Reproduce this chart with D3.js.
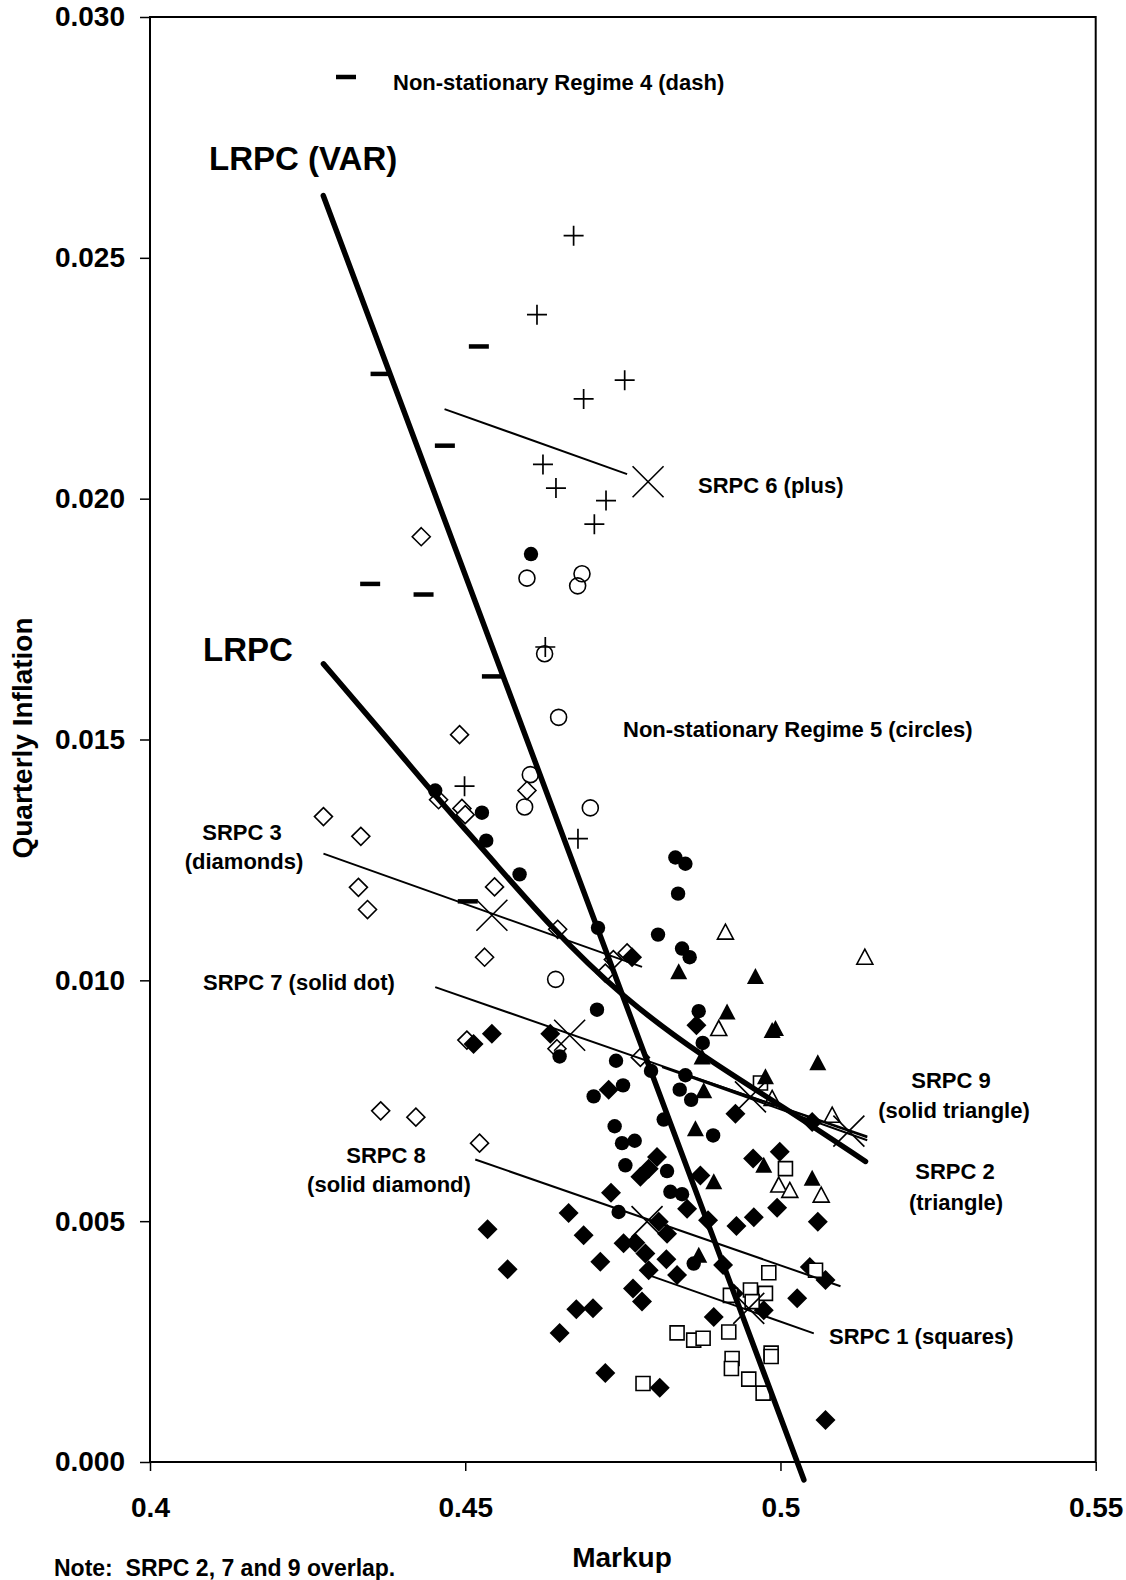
<!DOCTYPE html>
<html><head><meta charset="utf-8">
<script src="https://cdn.jsdelivr.net/npm/d3@7/dist/d3.min.js"></script>
<style>
html,body{margin:0;padding:0;background:#fff;}
svg text{font-family:"Liberation Sans",Arial,sans-serif;font-weight:bold;fill:#000;}
</style></head>
<body>
<svg id="chart" width="1126" height="1580"></svg>
<script>
// ---------- data ----------
const xTicks = [0.4, 0.45, 0.5, 0.55];
const xTickLabels = ["0.4", "0.45", "0.5", "0.55"];
const yTicks = [0, 0.005, 0.010, 0.015, 0.020, 0.025, 0.030];
const yTickLabels = ["0.000", "0.005", "0.010", "0.015", "0.020", "0.025", "0.030"];

// Non-stationary Regime 4 (dash)
const regime4Dash = [[0.45216,0.02316],[0.43657,0.02259],[0.44677,0.02110],[0.43492,0.01823],[0.44339,0.01801],[0.45423,0.01631],[0.4504,0.01164]];
// SRPC 6 (plus)
const srpc6Plus = [[0.46719,0.02546],[0.46138,0.02382],[0.47529,0.02246],[0.46878,0.02207],[0.46233,0.02071],[0.46439,0.02022],[0.47233,0.01996],[0.47048,0.01947],[0.46270,0.01692],[0.44989,0.01403],[0.46788,0.01294]];
// Non-stationary Regime 5 (circles)
const regime5Circles = [[0.45979,0.01835],[0.46852,0.01844],[0.46783,0.01819],[0.46259,0.01678],[0.46481,0.01546],[0.46032,0.01427],[0.45942,0.01360],[0.46984,0.01358],[0.46434,0.01002]];
// SRPC 3 (open diamonds)
const srpc3Diamonds = [[0.44302,0.01921],[0.44910,0.01510],[0.45979,0.01394],[0.44577,0.01375],[0.44947,0.01357],[0.45000,0.01344],[0.42751,0.01340],[0.43344,0.01299],[0.43306,0.01193],[0.43450,0.01147],[0.45465,0.01194],[0.45307,0.01048],[0.46466,0.01106],[0.47349,0.01043],[0.47567,0.01057],[0.47222,0.01015],[0.45026,0.00876],[0.46455,0.00858],[0.47778,0.00840],[0.43659,0.00729],[0.44217,0.00716],[0.45227,0.00662]];
// SRPC 7 (solid dot)
const srpc7Dots = [[0.46043,0.01885],[0.44524,0.01394],[0.45265,0.01348],[0.45333,0.01290],[0.45862,0.01220],[0.48333,0.01255],[0.48492,0.01242],[0.48376,0.01180],[0.47106,0.01109],[0.48058,0.01095],[0.48439,0.01066],[0.48560,0.01048],[0.47090,0.00939],[0.48703,0.00936],[0.48767,0.00870],[0.46497,0.00842],[0.47392,0.00833],[0.47947,0.00812],[0.48492,0.00803],[0.47503,0.00782],[0.47037,0.00759],[0.48402,0.00773],[0.48583,0.00752],[0.48148,0.00711],[0.47370,0.00697],[0.48932,0.00678],[0.47487,0.00662],[0.47688,0.00667],[0.47540,0.00616],[0.48201,0.00604],[0.48254,0.00561],[0.48439,0.00556],[0.47433,0.00519],[0.48624,0.00412]];
// SRPC 8 (solid diamond)
const srpc8SolidDiamonds = [[0.48042,0.00633],[0.49989,0.00644],[0.49566,0.00630],[0.47778,0.00592],[0.47910,0.00609],[0.48730,0.00595],[0.47312,0.00559],[0.46640,0.00517],[0.49947,0.00528],[0.49577,0.00508],[0.48519,0.00526],[0.48852,0.00502],[0.49302,0.00490],[0.50592,0.00499],[0.48069,0.00499],[0.48201,0.00474],[0.45354,0.00483],[0.46878,0.00471],[0.47511,0.00454],[0.47698,0.00455],[0.47857,0.00433],[0.48190,0.00421],[0.47143,0.00416],[0.48360,0.00388],[0.47910,0.00398],[0.49090,0.00409],[0.50465,0.00405],[0.50714,0.00378],[0.45672,0.00400],[0.47661,0.00360],[0.47804,0.00333],[0.46762,0.00317],[0.47027,0.00319],[0.49259,0.00350],[0.50265,0.00340],[0.49735,0.00315],[0.48942,0.00301],[0.46497,0.00268],[0.47222,0.00185],[0.48085,0.00154],[0.50714,0.00087],[0.45423,0.00889],[0.45132,0.00868],[0.46349,0.00889],[0.47646,0.01048],[0.48667,0.00907],[0.47275,0.00773],[0.49286,0.00723],[0.50503,0.00706]];
// SRPC 1 (squares)
const srpc1Squares = [[0.50079,0.00609],[0.49815,0.00393],[0.49206,0.00346],[0.49524,0.00357],[0.49762,0.00350],[0.49551,0.00333],[0.48360,0.00268],[0.48624,0.00253],[0.48773,0.00257],[0.49180,0.00270],[0.49233,0.00215],[0.49222,0.00194],[0.49852,0.00226],[0.49852,0.00219],[0.49497,0.00172],[0.49725,0.00143],[0.47820,0.00163],[0.50556,0.00398],[0.49683,0.00787]];
// SRPC 2 (open triangle)
const srpc2Triangles = [[0.49127,0.01100],[0.51338,0.01048],[0.49021,0.00900],[0.49868,0.00755],[0.50820,0.00720],[0.49973,0.00575],[0.50148,0.00564],[0.50646,0.00554]];
// SRPC 9 (solid triangle)
const srpc9SolidTriangles = [[0.48386,0.01018],[0.49603,0.01008],[0.49153,0.00934],[0.49868,0.00896],[0.49921,0.00900],[0.50592,0.00829],[0.49762,0.00800],[0.48783,0.00771],[0.48757,0.00841],[0.48651,0.00692],[0.49735,0.00616],[0.50503,0.00589],[0.48942,0.00582],[0.48704,0.00429]];

// Long-run Phillips curves
const lrpcVarLine = [[0.42749,0.02629],[0.50371,-0.00037]];
const lrpcCurve = [[0.42751,0.01657],[0.43703,0.01512],[0.44497,0.01387],[0.45344,0.01263],[0.46349,0.01111],[0.47487,0.00965],[0.48783,0.00840],[0.50000,0.00741],[0.51349,0.00624]];

// Short-run Phillips curves (line end points) and their X-marked centres
const srpcLines = [
  [[0.44672,0.02186],[0.47567,0.02051]], // SRPC 6
  [[0.42751,0.01263],[0.47804,0.01028]], // SRPC 3
  [[0.44524,0.00986],[0.51376,0.00674]], // SRPC 7
  [[0.48122,0.00820],[0.51376,0.00668]], // SRPC 9
  [[0.48571,0.00801],[0.51376,0.00676]], // SRPC 2
  [[0.45159,0.00628],[0.50952,0.00365]], // SRPC 8
  [[0.47910,0.00388],[0.50529,0.00267]]  // SRPC 1
];
const srpcCentres = [[0.47900,0.02035],[0.45423,0.01135],[0.46656,0.00886],[0.51085,0.00687],[0.49524,0.00758],[0.47884,0.00499],[0.49497,0.00319]];

// ---------- drawing ----------
const svg = d3.select("#chart");
const pLeft = 150, pRight = 1095.7, pTop = 17, pBottom = 1462;
const x = d3.scaleLinear().domain([0.4, 0.55]).range([pLeft, pRight]);
const y = d3.scaleLinear().domain([0, 0.03]).range([pBottom, pTop]);

// frame
svg.append("rect").attr("x", pLeft).attr("y", pTop).attr("width", pRight - pLeft).attr("height", pBottom - pTop)
  .attr("fill", "none").attr("stroke", "#000").attr("stroke-width", 2);

// axes
const yAxis = svg.append("g").attr("transform", `translate(${pLeft},0)`)
  .call(d3.axisLeft(y).tickValues(yTicks).tickSize(10).tickPadding(15)
    .tickFormat((d, i) => yTickLabels[i]));
const xAxis = svg.append("g").attr("transform", `translate(0,${pBottom})`)
  .call(d3.axisBottom(x).tickValues(xTicks).tickSize(9).tickPadding(26)
    .tickFormat((d, i) => xTickLabels[i]));
[yAxis, xAxis].forEach(g => {
  g.select(".domain").remove();
  g.selectAll(".tick line").attr("stroke", "#000").attr("stroke-width", 1.5);
  g.selectAll(".tick text").style("font-family", '"Liberation Sans",Arial,sans-serif')
    .style("font-weight", "bold").style("font-size", "28px").attr("fill", "#000");
});

// axis titles
svg.append("text").attr("x", 622).attr("y", 1567).attr("text-anchor", "middle")
  .style("font-size", "28px").text("Markup");
svg.append("text").attr("transform", "translate(32,738) rotate(-90)").attr("text-anchor", "middle")
  .style("font-size", "28px").text("Quarterly Inflation");
svg.append("text").attr("x", 54).attr("y", 1576).style("font-size", "23px")
  .style("white-space", "pre").text("Note:  SRPC 2, 7 and 9 overlap.");

const plot = svg.append("g");

// markers
function drawPoints(data, pathFn, fill, sw) {
  plot.append("g").selectAll("path").data(data).join("path")
    .attr("transform", d => `translate(${x(d[0])},${y(d[1])})`)
    .attr("d", pathFn)
    .attr("fill", fill).attr("stroke", "#000").attr("stroke-width", sw);
}
const diamondPath = r => `M0,${-r}L${r},0L0,${r}L${-r},0Z`;
const squarePath = s => `M${-s/2},${-s/2}H${s/2}V${s/2}H${-s/2}Z`;
const trianglePath = (w, h) => `M0,${-h/2 - 1}L${w/2},${h/2}L${-w/2},${h/2}Z`;
const circlePath = r => `M${-r},0A${r},${r} 0 1,0 ${r},0A${r},${r} 0 1,0 ${-r},0Z`;

drawPoints(regime4Dash, () => "M-10,0H10", "none", 4.5);
drawPoints(srpc6Plus, () => "M-10,0H10M0,-10V10", "none", 1.7);
drawPoints(regime5Circles, () => circlePath(8), "none", 1.6);
drawPoints(srpc3Diamonds, () => diamondPath(9), "#fff", 1.6);
drawPoints(srpc7Dots, () => circlePath(7.2), "#000", 0);
drawPoints(srpc8SolidDiamonds, () => diamondPath(10), "#000", 0);
drawPoints(srpc1Squares, () => squarePath(14), "#fff", 1.6);
drawPoints(srpc2Triangles, () => trianglePath(16, 14), "#fff", 1.6);
drawPoints(srpc9SolidTriangles, () => trianglePath(17, 15), "#000", 0);

// SRPC lines
const line = d3.line().x(d => x(d[0])).y(d => y(d[1]));
plot.append("g").selectAll("path").data(srpcLines).join("path")
  .attr("d", line).attr("fill", "none").attr("stroke", "#000").attr("stroke-width", 2);
plot.append("g").selectAll("path").data(srpcCentres).join("path")
  .attr("transform", d => `translate(${x(d[0])},${y(d[1])})`)
  .attr("d", "M-15.5,-15.5L15.5,15.5M-15.5,15.5L15.5,-15.5")
  .attr("fill", "none").attr("stroke", "#000").attr("stroke-width", 1.6);

// LRPC lines
plot.append("path").datum(lrpcVarLine).attr("d", line).attr("fill", "none")
  .attr("stroke", "#000").attr("stroke-width", 5.5).attr("stroke-linecap", "round");
plot.append("path").datum(lrpcCurve)
  .attr("d", d3.line().x(d => x(d[0])).y(d => y(d[1])).curve(d3.curveBasis))
  .attr("fill", "none").attr("stroke", "#000").attr("stroke-width", 5.5).attr("stroke-linecap", "round");

// legend dash
svg.append("path").attr("d", "M336,77H356").attr("stroke", "#000").attr("stroke-width", 4.5);

// annotations
const ann = [
  {t: "Non-stationary Regime 4 (dash)", x: 393, y: 90, a: "start", s: 22},
  {t: "LRPC (VAR)", x: 209, y: 170, a: "start", s: 33},
  {t: "LRPC", x: 203, y: 661, a: "start", s: 33},
  {t: "SRPC 6 (plus)", x: 698, y: 493, a: "start", s: 22},
  {t: "Non-stationary Regime 5 (circles)", x: 623, y: 737, a: "start", s: 22},
  {t: "SRPC 3", x: 242, y: 840, a: "middle", s: 22},
  {t: "(diamonds)", x: 244, y: 869, a: "middle", s: 22},
  {t: "SRPC 7 (solid dot)", x: 203, y: 990, a: "start", s: 22},
  {t: "SRPC 8", x: 386, y: 1163, a: "middle", s: 22},
  {t: "(solid diamond)", x: 389, y: 1192, a: "middle", s: 22},
  {t: "SRPC 9", x: 951, y: 1088, a: "middle", s: 22},
  {t: "(solid triangle)", x: 954, y: 1118, a: "middle", s: 22},
  {t: "SRPC 2", x: 955, y: 1179, a: "middle", s: 22},
  {t: "(triangle)", x: 956, y: 1210, a: "middle", s: 22},
  {t: "SRPC 1 (squares)", x: 829, y: 1344, a: "start", s: 22}
];
svg.append("g").selectAll("text").data(ann).join("text")
  .attr("x", d => d.x).attr("y", d => d.y).attr("text-anchor", d => d.a)
  .style("font-size", d => d.s + "px").text(d => d.t);
</script>
</body></html>
